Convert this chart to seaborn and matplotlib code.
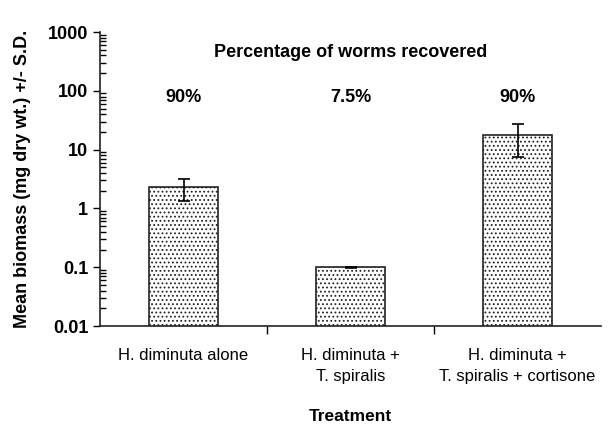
# Worm biomass by treatment (log scale bar chart)
import numpy as np
import matplotlib
matplotlib.use("Agg")
import matplotlib.pyplot as plt
import seaborn as sns

# data
treatments = ["H. diminuta alone", "H. diminuta +\nT. spiralis",
              "H. diminuta +\nT. spiralis + cortisone"]
biomass = [2.28, 0.10, 17.4]
biomass_sd = [0.93, 0.002, 9.8]
recovered = ["90%", "7.5%", "90%"]

sns.set_style("ticks")
plt.rcParams["font.family"] = ["Liberation Sans", "DejaVu Sans"]
plt.rcParams["hatch.color"] = "#444444"
plt.rcParams["hatch.linewidth"] = 0.8
plt.rcParams["text.color"] = "black"
plt.rcParams["xtick.color"] = "black"
plt.rcParams["ytick.color"] = "black"
plt.rcParams["axes.labelcolor"] = "black"

fig = plt.figure(figsize=(6.11, 4.25), dpi=100)
ax = fig.add_axes([0.1637, 0.2329, 0.82, 0.6918])
ax.set_yscale("log")

sns.barplot(x=treatments, y=biomass, ax=ax, color="white", width=0.41,
            edgecolor="#222222", linewidth=1.2, hatch="....", errorbar=None)
ax.errorbar(np.arange(len(biomass)), biomass, yerr=biomass_sd, fmt="none",
            ecolor="black", elinewidth=1.2, capsize=4, capthick=1.2)

ax.set_ylim(0.01, 1000)
ax.set_xlim(-0.5, 2.5)
ax.set_yticks([0.01, 0.1, 1, 10, 100, 1000])
ax.set_yticklabels(["0.01", "0.1", "1", "10", "100", "1000"],
                   fontweight="bold", fontsize=13)
ax.tick_params(axis="y", which="major", direction="out", length=5, width=1)
ax.tick_params(axis="y", which="minor", direction="in", length=4, width=1)

ax.set_xticks(range(len(treatments)))
ax.set_xticklabels(treatments, fontsize=12, linespacing=1.45)
ax.set_xticks([0.5, 1.5], minor=True)
ax.tick_params(axis="x", which="major", length=0, pad=16)
ax.tick_params(axis="x", which="minor", direction="out", length=6, width=1)

for s in ["top", "right"]:
    ax.spines[s].set_visible(False)
for s in ["left", "bottom"]:
    ax.spines[s].set_color("#222222")
    ax.spines[s].set_linewidth(1.2)

ax.set_xlabel("Treatment", fontweight="bold", fontsize=12.5, labelpad=18)
ax.set_ylabel("Mean biomass (mg dry wt.) +/- S.D.", fontweight="bold",
              fontsize=13, labelpad=12)

ax.text(1, 450, "Percentage of worms recovered", ha="center", va="center",
        fontweight="bold", fontsize=13)
for i, r in enumerate(recovered):
    ax.text(i, 78, r, ha="center", va="center", fontweight="bold", fontsize=13)

fig.savefig("out.png", dpi=100)
